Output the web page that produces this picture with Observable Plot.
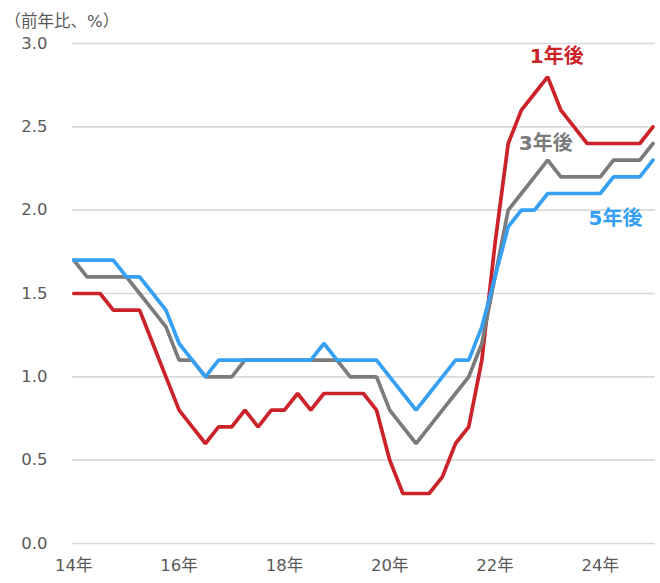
<!DOCTYPE html>
<html>
<head>
<meta charset="utf-8">
<script src="https://cdn.jsdelivr.net/npm/d3@7"></script>
<script src="https://cdn.jsdelivr.net/npm/@observablehq/plot@0.6"></script>
<style>
  body { margin: 0; background: #fff; }
  #chart svg { display: block; }
</style>
</head>
<body>
<div id="chart"></div>
<script>
// ---- data (quarterly, from 2014 Q1 to 2025 Q1) ----
const firstYear = 2014;
const seriesNames = ["1年後", "3年後", "5年後"];
const seriesColors = ["#cc2229", "#7b7b7b", "#35a0f4"];
const oneYear = [1.5,1.5,1.5,1.4,1.4,1.4,1.2,1.0,0.8,0.7,0.6,0.7,0.7,0.8,0.7,0.8,0.8,0.9,0.8,0.9,0.9,0.9,0.9,0.8,0.5,0.3,0.3,0.3,0.4,0.6,0.7,1.1,1.8,2.4,2.6,2.7,2.8,2.6,2.5,2.4,2.4,2.4,2.4,2.4,2.5];
const threeYear = [1.7,1.6,1.6,1.6,1.6,1.5,1.4,1.3,1.1,1.1,1.0,1.0,1.0,1.1,1.1,1.1,1.1,1.1,1.1,1.1,1.1,1.0,1.0,1.0,0.8,0.7,0.6,0.7,0.8,0.9,1.0,1.2,1.6,2.0,2.1,2.2,2.3,2.2,2.2,2.2,2.2,2.3,2.3,2.3,2.4];
const fiveYear = [1.7,1.7,1.7,1.7,1.6,1.6,1.5,1.4,1.2,1.1,1.0,1.1,1.1,1.1,1.1,1.1,1.1,1.1,1.1,1.2,1.1,1.1,1.1,1.1,1.0,0.9,0.8,0.9,1.0,1.1,1.1,1.3,1.6,1.9,2.0,2.0,2.1,2.1,2.1,2.1,2.1,2.2,2.2,2.2,2.3];
const yTicks = [0, 0.5, 1.0, 1.5, 2.0, 2.5, 3.0];
const xTicks = [2014, 2016, 2018, 2020, 2022, 2024];
const yUnit = "（前年比、%）";
// label anchors: which quarter index of each series the series name sits near
const labelAnchorIndex = [36, 36, 41];

// ---- build table ----
const seriesValues = [oneYear, threeYear, fiveYear];
const rows = [];
seriesValues.forEach((vals, s) => vals.forEach((v, i) => rows.push({series: seriesNames[s], t: firstYear + i / 4, v})));
const labelRows = seriesNames.map((name, s) => ({series: name, t: firstYear + labelAnchorIndex[s] / 4, v: seriesValues[s][labelAnchorIndex[s]]}));

const font = "'DejaVu Sans', 'Noto Sans CJK JP', sans-serif";
const labelFont = "'DejaVu Sans', 'Noto Sans CJK JP', sans-serif";

const chart = Plot.plot({
  width: 660,
  height: 583,
  marginTop: 43,
  marginBottom: 40,
  marginLeft: 72,
  marginRight: 5,
  style: {fontFamily: font, fontSize: "16.5px", color: "#595959", background: "#fff"},
  x: {domain: [2014, 2025], insetLeft: 1.3, insetRight: 2.5, label: null},
  y: {domain: [0, 3], label: null},
  color: {domain: seriesNames, range: seriesColors},
  marks: [
    Plot.ruleY(yTicks, {stroke: "#d9d9d9", strokeWidth: 1.6}),
    Plot.axisX({ticks: xTicks, tickFormat: d => String(d).slice(2) + "年", tickSize: 0, tickPadding: 16, fill: "#595959", fontSize: 16.5, fontFamily: font}),
    Plot.axisY({ticks: yTicks, tickFormat: d => d.toFixed(1), tickSize: 0, tickPadding: 25, fill: "#595959", fontSize: 16.5, fontFamily: font}),
    Plot.lineY(rows, {x: "t", y: "v", z: "series", stroke: "series", strokeWidth: 3.7, strokeLinejoin: "miter", curve: "linear"}),
    Plot.text([labelRows[0]], {x: "t", y: "v", text: "series", fill: seriesColors[0], fontWeight: "bold", fontSize: 20, fontFamily: labelFont, dx: 9, dy: -20}),
    Plot.text([labelRows[1]], {x: "t", y: "v", text: "series", fill: seriesColors[1], fontWeight: "bold", fontSize: 20, fontFamily: labelFont, dx: -2, dy: -17}),
    Plot.text([labelRows[2]], {x: "t", y: "v", text: "series", fill: seriesColors[2], fontWeight: "bold", fontSize: 20, fontFamily: labelFont, dx: 2, dy: 42}),
    Plot.text([yUnit], {frameAnchor: "top-left", lineAnchor: "middle", text: d => d, dx: -68, dy: -22, textAnchor: "start", fill: "#595959", fontSize: 16.5, fontFamily: font})
  ]
});
document.getElementById("chart").appendChild(chart);
</script>
</body>
</html>
